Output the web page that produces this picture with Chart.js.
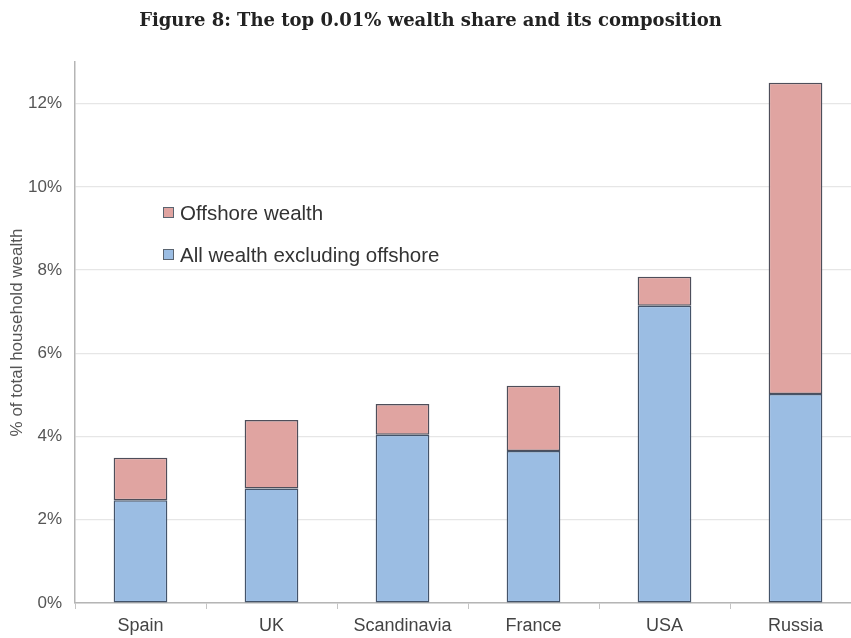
<!DOCTYPE html>
<html>
<head>
<meta charset="utf-8">
<script src="https://cdn.jsdelivr.net/npm/chart.js@4"></script>
<style>
  html, body { margin: 0; padding: 0; background: #fff; overflow: hidden; }
</style>
</head>
<body>
<canvas id="wealthChart" width="870" height="638"></canvas>
<script>
// Categories and series (percent of total household wealth)
const countries = ['Spain', 'UK', 'Scandinavia', 'France', 'USA', 'Russia'];
const baseWealth = [2.47, 2.75, 4.04, 3.65, 7.14, 5.02];
const offshoreWealth = [1.02, 1.65, 0.74, 1.57, 0.70, 7.48];
const yTicks = [0, 2, 4, 6, 8, 10, 12];

// Draws the legend inside the plot area (top-left)
const insideLegend = {
    id: 'insideLegend',
    afterDraw(chart) {
        const ctx = chart.ctx;
        const items = chart.data.datasets.slice().reverse();
        ctx.save();
        ctx.font = '20.5px "Liberation Sans", Arial, sans-serif';
        ctx.textBaseline = 'middle';
        items.forEach((ds, i) => {
            const y = 213 + i * 42;
            ctx.fillStyle = ds.backgroundColor;
            ctx.fillRect(163, y - 6, 11, 11);
            ctx.strokeStyle = '#5a6470';
            ctx.lineWidth = 1;
            ctx.strokeRect(163.5, y - 5.5, 10, 10);
            ctx.fillStyle = '#333';
            ctx.fillText(ds.label, 180, y + 1);
        });
        ctx.restore();
    }
};

const ctx = document.getElementById('wealthChart').getContext('2d');
const wealthChart = new Chart(ctx, {
    type: 'bar',
    data: {
        labels: countries,
        datasets: [{
            label: 'All wealth excluding offshore',
            data: baseWealth,
            backgroundColor: '#9bbde3',
            borderColor: '#44546a',
            borderWidth: 1.5,
            borderSkipped: false
        }, {
            label: 'Offshore wealth',
            data: offshoreWealth,
            backgroundColor: '#e0a4a1',
            borderColor: '#4e4e5a',
            borderWidth: 1.5,
            borderSkipped: false
        }]
    },
    options: {
        responsive: false,
        animation: false,
        layout: { padding: { left: 0, right: 9, bottom: 0 } },
        datasets: {
            bar: { categoryPercentage: 1, barPercentage: 0.41 }
        },
        plugins: {
            legend: { display: false },
            tooltip: { enabled: false },
            title: {
                display: true,
                text: 'Figure 8: The top 0.01% wealth share and its composition',
                color: '#222',
                font: { family: '"DejaVu Serif", "Liberation Serif", serif', size: 18, weight: 'bold' },
                padding: { top: 11, bottom: 29.4 }
            }
        },
        scales: {
            x: {
                stacked: true,
                grid: { drawOnChartArea: false, tickLength: 6, color: '#c4c4c4', offset: true },
                border: { color: '#b5b5b5', width: 1.5 },
                ticks: {
                    color: '#444',
                    padding: 6,
                    font: { family: '"Liberation Sans", Arial, sans-serif', size: 18 }
                },
                afterFit: function (scale) { scale.height = 35; }
            },
            y: {
                stacked: true,
                min: 0,
                max: 13,
                afterBuildTicks: function (scale) {
                    scale.ticks = yTicks.map(v => ({ value: v }));
                },
                grid: { color: '#e6e6e6', lineWidth: 1.2, drawTicks: false },
                border: { color: '#b5b5b5', width: 1.5 },
                ticks: {
                    color: '#555',
                    padding: 13,
                    font: { family: '"Liberation Sans", Arial, sans-serif', size: 17 },
                    callback: function (value) { return value + '%'; }
                },
                title: {
                    display: true,
                    text: '% of total household wealth',
                    color: '#555',
                    font: { family: '"Liberation Sans", Arial, sans-serif', size: 17 },
                    padding: { top: 7, bottom: 0 }
                },
                afterFit: function (scale) { scale.width = 75; }
            }
        }
    },
    plugins: [insideLegend]
});
</script>
</body>
</html>
